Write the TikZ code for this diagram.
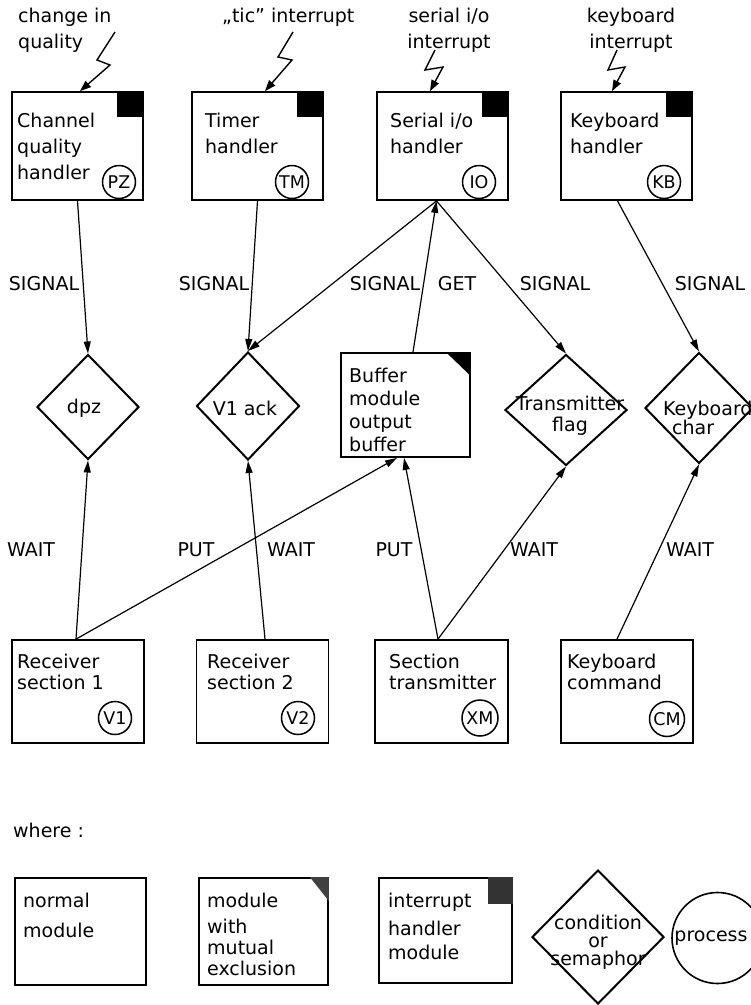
\documentclass[tikz,border=0pt]{standalone}
\usepackage{fontspec}
\setmainfont{DejaVu Sans}
\usetikzlibrary{shapes.geometric,arrows.meta}
\begin{document}
\begin{tikzpicture}[x=1pt,y=-1pt,
  box/.style={draw, line width=1.8pt, inner sep=0pt},
  topbox/.style={box, minimum width=131pt, minimum height=108pt},
  botbox/.style={box, minimum width=132pt, minimum height=103pt},
  cond/.style={draw, diamond, line width=2pt, inner sep=0pt},
  pc/.style={draw, circle, line width=1.5pt, inner sep=0pt, minimum size=33pt, font=\fontsize{17.5}{17.5}\selectfont},
  txt/.style={inner sep=0pt, align=left, anchor=north west, font=\fontsize{19}{26}\selectfont},
  txtb/.style={txt, font=\fontsize{19}{21}\selectfont},
  lbl/.style={inner sep=0pt, font=\fontsize{19}{19}\selectfont},
  arr/.style={-{Triangle[length=12pt,width=7pt]}, line width=1.2pt},
  zz/.style={-{Triangle[length=11pt,width=8pt]}, line width=1.4pt},
]
\useasboundingbox (0,0) rectangle (751,1005);
\fill[white] (0,0) rectangle (751,1005);

% top labels
\node[txt] (tPZ) at (18,8) {change in\\quality};
\node[txt] (tTM) at (222,8) {„tic" interrupt};
\node[txt, align=center, anchor=north] (tIO) at (449,8) {serial i/o\\interrupt};
\node[txt, align=center, anchor=north] (tKB) at (631,8) {keyboard\\interrupt};

% handler boxes
\node[topbox] (PZ) at (77.5,146) {};
\node[topbox] (TM) at (257.5,146) {};
\node[topbox] (IO) at (442.5,146) {};
\node[topbox] (KB) at (626.5,146) {};
\foreach \b in {PZ,TM,IO,KB}{
  \fill ([xshift=-27pt]\b.north east) rectangle ([yshift=-26pt]\b.north east);
}
\node[txt] (xPZ) at (17,113) {Channel\\quality\\handler};
\node[txt] (xTM) at (205,113) {Timer\\handler};
\node[txt] (xIO) at (390,113) {Serial i/o\\handler};
\node[txt] (xKB) at (570,113) {Keyboard\\handler};
\node[pc] (cPZ) at (119,182) {PZ};
\node[pc] (cTM) at (292,182) {TM};
\node[pc] (cIO) at (479,182) {IO};
\node[pc] (cKB) at (664,182) {KB};

% lightning
\coordinate (zPZ) at (115,32);
\coordinate (zTM) at (293,32);
\coordinate (zIO) at (435,50);
\coordinate (zKB) at (617,50);
\draw[zz] (zPZ) -- ++(-18,28) -- ++(13,5) -- ([xshift=2.5pt]PZ.north);
\draw[zz] (zTM) -- ++(-15,25) -- ++(14,3) -- ([xshift=7.5pt]TM.north);
\draw[zz] (zIO) -- ++(-10,20) -- ++(18,-3) -- ([xshift=-12.5pt]IO.north);
\draw[zz] (zKB) -- ++(-9,20) -- ++(17,-3) -- ([xshift=-14.5pt]KB.north);

% conditions
\node[cond, minimum width=102pt, minimum height=105pt] (dpz) at (88,407) {};
\node[cond, minimum width=103pt, minimum height=108pt] (v1a) at (248,406) {};
\node[cond, minimum width=122pt, minimum height=111pt] (tf) at (566,410) {};
\node[cond, minimum width=108pt, minimum height=111pt] (kc) at (699,408) {};
\node[lbl] (xdpz) at (84,408) {dpz};
\node[lbl] (xv1a) at (245,408) {V1 ack};
\node[lbl, align=center, font=\fontsize{19}{21}\selectfont] (xtf) at (570,416) {Transmitter\\flag};
\node[lbl, align=left, anchor=west, font=\fontsize{19}{19}\selectfont] (xkc) at (663,418) {Keyboard\\\hspace*{9pt}char};

% buffer module
\node[box, minimum width=129pt, minimum height=104pt] (buf) at (405.5,405) {};
\fill ([xshift=-25pt]buf.north east) -- (buf.north east) -- ([yshift=-24pt]buf.north east) -- cycle;
\node[txt, font=\fontsize{19}{23}\selectfont] (xbuf) at (349,368) {Buffer\\module\\output\\buffer};

% bottom boxes
\node[botbox] (V1) at (78,691.5) {};
\node[botbox] (V2) at (262.5,691.5) {};
\node[botbox, minimum width=133pt] (XM) at (441.5,691.5) {};
\node[botbox] (CM) at (627,691.5) {};
\node[txtb] (xV1) at (17,654) {Receiver\\section 1};
\node[txtb] (xV2) at (207,654) {Receiver\\section 2};
\node[txtb] (xXM) at (389,654) {Section\\transmitter};
\node[txtb] (xCM) at (567,654) {Keyboard\\command};
\node[pc] (cV1) at (115,718) {V1};
\node[pc] (cV2) at (298,718) {V2};
\node[pc, minimum size=36pt] (cXM) at (480,718) {XM};
\node[pc, minimum size=35pt] (cCM) at (667,719) {CM};

% connectors
\draw[arr] (PZ.south) -- (dpz.north);
\draw[arr] (TM.south) -- (v1a.north);
\draw[arr] ([xshift=-6pt]IO.south) -- (v1a.north);
\draw[arr] ([xshift=7.5pt]buf.north) -- ([xshift=-6pt]IO.south);
\draw[arr] ([xshift=-6pt]IO.south) -- (tf.north);
\draw[arr] ([xshift=-9pt]KB.south) -- (kc.north);
\draw[arr] ([xshift=-2pt]V1.north) -- (dpz.south);
\draw[arr] ([xshift=-2pt]V1.north) -- ([xshift=-8.5pt]buf.south);
\draw[arr] ([xshift=2.5pt]V2.north) -- (v1a.south);
\draw[arr] ([xshift=-3.5pt]XM.north) -- ([xshift=-1.5pt]buf.south);
\draw[arr] ([xshift=-3.5pt]XM.north) -- (tf.south);
\draw[arr] ([xshift=-10pt]CM.north) -- (kc.south);

% connector labels
\node[lbl] (s1) at (44,284) {SIGNAL};
\node[lbl] (s2) at (214,284) {SIGNAL};
\node[lbl] (s3) at (385,284) {SIGNAL};
\node[lbl] (g1) at (457,284) {GET};
\node[lbl] (s4) at (555,284) {SIGNAL};
\node[lbl] (s5) at (710,284) {SIGNAL};
\node[lbl] (w1) at (31,550) {WAIT};
\node[lbl] (p1) at (196,550) {PUT};
\node[lbl] (w2) at (291,550) {WAIT};
\node[lbl] (p2) at (394,550) {PUT};
\node[lbl] (w3) at (534,550) {WAIT};
\node[lbl] (w4) at (690,550) {WAIT};

% legend
\node[txt] (where) at (13,823) {where :};
\node[box, minimum width=131pt, minimum height=107pt] (nm) at (80.5,931.5) {};
\node[txt, font=\fontsize{19}{30}\selectfont] (xnm) at (23,893) {normal\\module};
\node[box, minimum width=129pt, minimum height=107pt] (mx) at (263.5,931.5) {};
\fill[black!75] ([xshift=-19pt]mx.north east) -- (mx.north east) -- ([yshift=-24pt]mx.north east) -- cycle;
\node[txt, font=\fontsize{19}{21}\selectfont] (xmx) at (207,893) {module\\[5pt]with\\mutual\\exclusion};
\node[box, minimum width=133pt, minimum height=105pt] (ih) at (445.5,930.5) {};
\fill[black!80] ([xshift=-25pt]ih.north east) rectangle ([yshift=-27pt]ih.north east);
\node[txt, font=\fontsize{19}{24}\selectfont] (xih) at (388,893) {interrupt\\[4pt]handler\\module};
\node[cond, minimum width=132pt, minimum height=134pt] (lc) at (598,937) {};
\node[lbl, align=center, font=\fontsize{19}{18}\selectfont] (xlc) at (598,942) {condition\\or\\semaphor};
\node[draw, circle, line width=1.6pt, minimum size=91pt, inner sep=0pt] (lp) at (717.5,938) {};
\node[lbl] (xlp) at (711,938) {process};
\end{tikzpicture}
\end{document}
